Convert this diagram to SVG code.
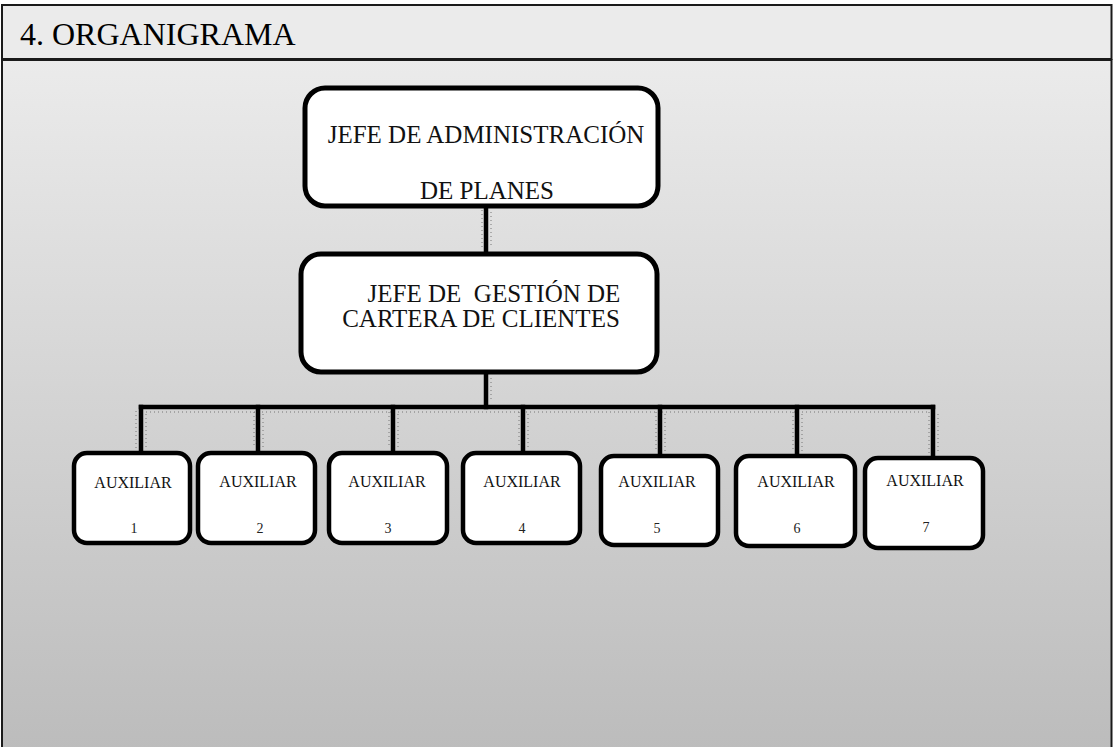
<svg xmlns="http://www.w3.org/2000/svg" width="1113" height="747" viewBox="0 0 1113 747">
  <defs>
    <linearGradient id="bodyFill" x1="0" y1="0" x2="0" y2="1">
      <stop offset="0" stop-color="#ebebeb"/>
      <stop offset="1" stop-color="#bcbcbc"/>
    </linearGradient>
    <style>
      .frame { stroke: #1a1a1a; stroke-width: 2; }
      .box { fill: #ffffff; stroke: #000000; }
      .big { stroke-width: 5; }
      .small { stroke-width: 4.5; }
      .wire { stroke: #000000; stroke-width: 4.5; fill: none; stroke-linecap: square; }
      .shade { stroke: #777777; stroke-width: 1; fill: none; stroke-dasharray: 1 3; }
      text { font-family: 'Liberation Serif', 'DejaVu Serif', serif; }
      .title { font-size: 32px; fill: #000; }
      .head { font-size: 25px; fill: #111; text-anchor: middle; }
      .aux { font-size: 16px; fill: #111; text-anchor: middle; }
      .num { font-size: 14px; fill: #222; text-anchor: middle; }
    </style>
  </defs>

  <!-- page frame: title strip and body -->
  <rect x="0" y="0" width="1113" height="747" fill="#ffffff"/>
  <rect x="2" y="60" width="1109.5" height="690" fill="url(#bodyFill)" class="frame"/>
  <rect x="2" y="5" width="1109.5" height="54" fill="#ebebeb" class="frame"/>
  <text class="title" x="20" y="45">4. ORGANIGRAMA</text>

  <!-- connectors -->
  <g id="connectors">
    <!-- dotted drop shadows -->
    <path class="shade" d="M482 210 V250 M491 212 V248"/>
    <path class="shade" d="M491 378 V402"/>
    <path class="shade" d="M146 412 H929"/>
    <path class="shade" d="M136 411 V448 M146 414 V448"/>
    <path class="shade" d="M254 412 V448 M263 414 V448"/>
    <path class="shade" d="M389 412 V448 M398 414 V448"/>
    <path class="shade" d="M519 412 V448 M528 414 V448"/>
    <path class="shade" d="M656 412 V451 M665 414 V451"/>
    <path class="shade" d="M793 412 V451 M802 414 V451"/>
    <path class="shade" d="M929 412 V453 M938 414 V453"/>
    <!-- solid lines -->
    <line class="wire" x1="486" y1="207" x2="486" y2="253"/>
    <line class="wire" x1="486" y1="373" x2="486" y2="407"/>
    <line class="wire" x1="141" y1="407" x2="933" y2="407"/>
    <line class="wire" x1="141" y1="407" x2="141" y2="452"/>
    <line class="wire" x1="258" y1="407" x2="258" y2="452"/>
    <line class="wire" x1="393" y1="407" x2="393" y2="452"/>
    <line class="wire" x1="523" y1="407" x2="523" y2="452"/>
    <line class="wire" x1="660" y1="407" x2="660" y2="455"/>
    <line class="wire" x1="797" y1="407" x2="797" y2="455"/>
    <line class="wire" x1="933" y1="407" x2="933" y2="457"/>
  </g>

  <g id="jefe-administracion">
    <rect class="box big" x="305" y="88" width="353" height="118" rx="20"/>
    <text class="head" x="486" y="143">JEFE DE ADMINISTRACIÓN</text>
    <text class="head" x="487" y="199">DE PLANES</text>
  </g>

  <g id="jefe-gestion">
    <rect class="box big" x="301" y="254" width="356" height="118" rx="20"/>
    <text class="head" x="494" y="302" xml:space="preserve">JEFE DE  GESTIÓN DE</text>
    <text class="head" x="481" y="327">CARTERA DE CLIENTES</text>
  </g>

  <g id="auxiliar-1">
    <rect class="box small" x="74" y="453" width="116" height="90" rx="13"/>
    <text class="aux" x="133" y="488">AUXILIAR</text>
    <text class="num" x="134" y="533">1</text>
  </g>
  <g id="auxiliar-2">
    <rect class="box small" x="198" y="453" width="117" height="90" rx="13"/>
    <text class="aux" x="258" y="487">AUXILIAR</text>
    <text class="num" x="260" y="533">2</text>
  </g>
  <g id="auxiliar-3">
    <rect class="box small" x="329" y="453" width="118" height="90" rx="13"/>
    <text class="aux" x="387" y="487">AUXILIAR</text>
    <text class="num" x="388" y="533">3</text>
  </g>
  <g id="auxiliar-4">
    <rect class="box small" x="463" y="453" width="117" height="90" rx="13"/>
    <text class="aux" x="522" y="487">AUXILIAR</text>
    <text class="num" x="522" y="533">4</text>
  </g>
  <g id="auxiliar-5">
    <rect class="box small" x="601" y="456" width="117" height="89" rx="13"/>
    <text class="aux" x="657" y="487">AUXILIAR</text>
    <text class="num" x="657" y="533">5</text>
  </g>
  <g id="auxiliar-6">
    <rect class="box small" x="736" y="456" width="119" height="90" rx="13"/>
    <text class="aux" x="796" y="487">AUXILIAR</text>
    <text class="num" x="797" y="533">6</text>
  </g>
  <g id="auxiliar-7">
    <rect class="box small" x="865" y="458" width="118" height="90" rx="13"/>
    <text class="aux" x="925" y="486">AUXILIAR</text>
    <text class="num" x="926" y="532">7</text>
  </g>
</svg>
